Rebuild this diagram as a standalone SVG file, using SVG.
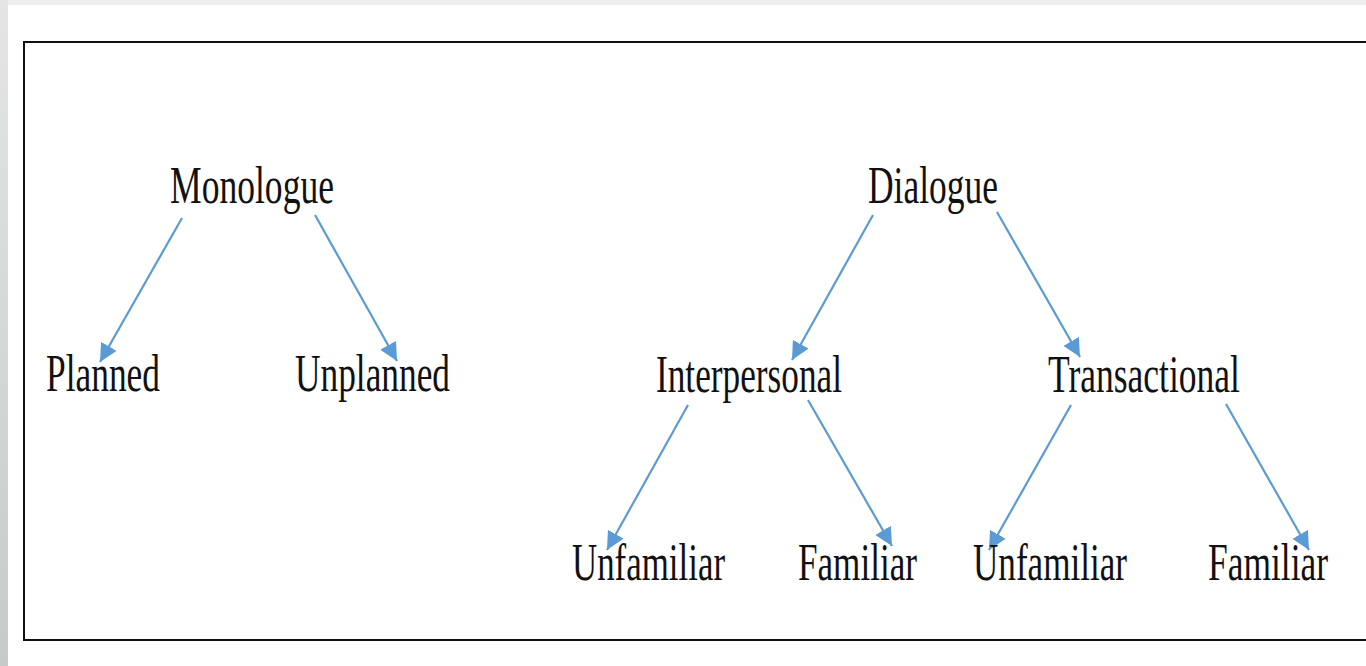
<svg xmlns="http://www.w3.org/2000/svg" width="1366" height="666" viewBox="0 0 1366 666">
<defs>
<linearGradient id="side" x1="0" y1="0" x2="0" y2="1">
<stop offset="0" stop-color="#e4e6e6"/>
<stop offset="1" stop-color="#c6caca"/>
</linearGradient>
<marker id="ah" markerUnits="userSpaceOnUse" markerWidth="19" markerHeight="18" refX="18" refY="9" orient="auto">
<path d="M0,0 L18,9 L0,18 Z" fill="#5b9bd5"/>
</marker>
<style>
.lbl{font-family:"Liberation Serif","Times New Roman",serif;font-size:36px;fill:#111}
.cn{stroke:#5b9bd5;stroke-width:2.2;fill:none;marker-end:url(#ah)}
</style>
</defs>
<rect x="0" y="0" width="1366" height="666" fill="#ffffff"/>
<rect x="0" y="0" width="1366" height="5" fill="#eeeeee"/>
<rect x="0" y="0" width="8" height="666" fill="url(#side)"/>
<path d="M1368,42 H24 V640 H1368" fill="none" stroke="#111" stroke-width="2"/>
<g id="connectors">
<line class="cn" x1="182" y1="218" x2="100" y2="362"/>
<line class="cn" x1="315" y1="215" x2="397" y2="361"/>
<line class="cn" x1="873" y1="215" x2="792" y2="360"/>
<line class="cn" x1="997" y1="212" x2="1080" y2="357"/>
<line class="cn" x1="688" y1="405" x2="607" y2="550"/>
<line class="cn" x1="808" y1="400" x2="892" y2="546"/>
<line class="cn" x1="1071" y1="405" x2="989" y2="550"/>
<line class="cn" x1="1226" y1="404" x2="1309" y2="550"/>
</g>
<g id="monologue"><text class="lbl" transform="translate(170,203) scale(1,1.44)" textLength="164" lengthAdjust="spacingAndGlyphs">Monologue</text></g>
<g id="dialogue"><text class="lbl" transform="translate(868,203) scale(1,1.44)" textLength="130" lengthAdjust="spacingAndGlyphs">Dialogue</text></g>
<g id="planned"><text class="lbl" transform="translate(46,391) scale(1,1.44)" textLength="114" lengthAdjust="spacingAndGlyphs">Planned</text></g>
<g id="unplanned"><text class="lbl" transform="translate(295,391) scale(1,1.44)" textLength="155" lengthAdjust="spacingAndGlyphs">Unplanned</text></g>
<g id="interpersonal"><text class="lbl" transform="translate(656,392) scale(1,1.44)" textLength="186" lengthAdjust="spacingAndGlyphs">Interpersonal</text></g>
<g id="transactional"><text class="lbl" transform="translate(1048,392) scale(1,1.44)" textLength="192" lengthAdjust="spacingAndGlyphs">Transactional</text></g>
<g id="unfamiliar1"><text class="lbl" transform="translate(572,580) scale(1,1.44)" textLength="153" lengthAdjust="spacingAndGlyphs">Unfamiliar</text></g>
<g id="familiar1"><text class="lbl" transform="translate(798,580) scale(1,1.44)" textLength="119" lengthAdjust="spacingAndGlyphs">Familiar</text></g>
<g id="unfamiliar2"><text class="lbl" transform="translate(973,580) scale(1,1.44)" textLength="154" lengthAdjust="spacingAndGlyphs">Unfamiliar</text></g>
<g id="familiar2"><text class="lbl" transform="translate(1208,580) scale(1,1.44)" textLength="120" lengthAdjust="spacingAndGlyphs">Familiar</text></g>
</svg>
